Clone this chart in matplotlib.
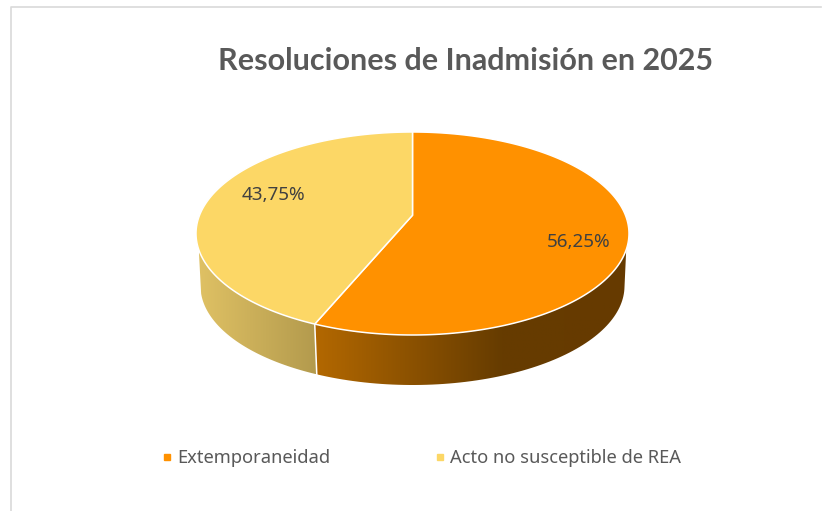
#!/usr/bin/env python
# -*- coding: utf-8 -*-
"""Pie chart in fake 3D: resoluciones de inadmision 2025."""

import numpy as np
import matplotlib
matplotlib.use('Agg')
import matplotlib.pyplot as plt
from matplotlib.colors import LinearSegmentedColormap
from matplotlib.lines import Line2D
from matplotlib.patches import Polygon

plt.rcParams['font.family'] = ['Noto Sans', 'DejaVu Sans']

TITLE = "Resoluciones de Inadmisión en 2025"
CATEGORIES = ["Extemporaneidad", "Acto no susceptible de REA"]
VALUES = [56.25, 43.75]
LABELS = ["56,25%", "43,75%"]

COLORS = ['#FF9100', '#FCD766']
WALL_STOPS = [
    [(0.0, '#B36800'), (0.6, '#663C00'), (1.0, '#663A00')],
    [(0.0, '#DFC164'), (1.0, '#B39A4D')],
]

# top and bottom ellipse of the disc, in pixels
CX, CY, RX, RY = 412.5, 233.5, 216.5, 101.5
BCY, BRX, BRY = 286.0, 212.0, 99.0
TILT = 0.18  # how far the apex sits above the middle of the ellipse


def rim_xy(deg, cy=CY, rx=RX, ry=RY):
    """Point on the rim for a pie angle, with the perspective shift."""
    t = np.radians(deg)
    u, v = np.cos(t), np.sin(t)
    den = 1 + TILT * v
    return CX + rx * u * np.sqrt(1 - TILT ** 2) / den, cy - ry * (v + TILT) / den


def wall(ax, a0, a1, b0, b1, stops):
    """Side wall between two rim angles, filled with a horizontal gradient."""
    top = np.array(rim_xy(np.linspace(a0, a1, 80))).T
    bot = np.array(rim_xy(np.linspace(b1, b0, 80), BCY, BRX, BRY)).T
    pts = np.vstack([top, bot])
    x0, x1 = pts[:, 0].min(), pts[:, 0].max()
    cmap = LinearSegmentedColormap.from_list('wall', stops)
    im = ax.imshow(np.linspace(0, 1, 256)[None, :], cmap=cmap, aspect='auto',
                   extent=(x0, x1, pts[:, 1].max(), pts[:, 1].min()), zorder=2)
    im.set_clip_path(Polygon(pts, closed=True, transform=ax.transData))


fig = plt.figure(figsize=(8.22, 5.11), dpi=100, facecolor='white')
ax = fig.add_axes([0, 0, 1, 1])

rim_apex = (CX, CY - RY * TILT)

# slice limits, clockwise from 12 o'clock
cum = np.cumsum([0] + VALUES) / sum(VALUES)
angles = 90 - 360 * cum
split = angles[1]

# silhouette angles, where the wall starts to show on each side
wall(ax, split, -19.3, split, -11, WALL_STOPS[0])
wall(ax, -160.7, split, -165.3, split, WALL_STOPS[1])

# white seam between the two wall pieces
ax.plot(*zip(rim_xy(split), rim_xy(split, BCY, BRX, BRY)), color='white', lw=1.1, zorder=3)

for i, color in enumerate(COLORS):
    rim = np.array(rim_xy(np.linspace(angles[i], angles[i + 1], 200))).T
    pts = np.vstack([[rim_apex], rim])
    ax.add_patch(Polygon(pts, closed=True, facecolor=color, edgecolor='white',
                         lw=1.1, joinstyle='miter', zorder=4))

ax.text(578.5, 242, LABELS[0], color='#404040', fontsize=13.6, ha='center', va='center', zorder=5)
ax.text(273.5, 195, LABELS[1], color='#404040', fontsize=13.6, ha='center', va='center', zorder=5)

ax.text(465.5, 60.5, TITLE, color='#595959', fontsize=22, fontweight='bold',
        family=['Lato', 'DejaVu Sans'], ha='center', va='center')

handles = [Line2D([], [], ls='none', marker='s', ms=4.8, color=c) for c in COLORS]
ax.legend(handles, CATEGORIES, loc='center', bbox_to_anchor=(421.5, 458),
          bbox_transform=ax.transData, ncol=2, frameon=False, fontsize=13.2,
          labelcolor='#595959', handlelength=0.6, handletextpad=0.25,
          columnspacing=5.7, borderpad=0)

# chart frame, only left and top are in the crop
ax.plot([10.5, 10.5, 821], [511, 7.5, 7.5], color='#D9D9D9', lw=1.2, zorder=1)

ax.set_xlim(0, 822)
ax.set_ylim(511, 0)
ax.axis('off')

plt.savefig('out.png', dpi=100, facecolor='white')
